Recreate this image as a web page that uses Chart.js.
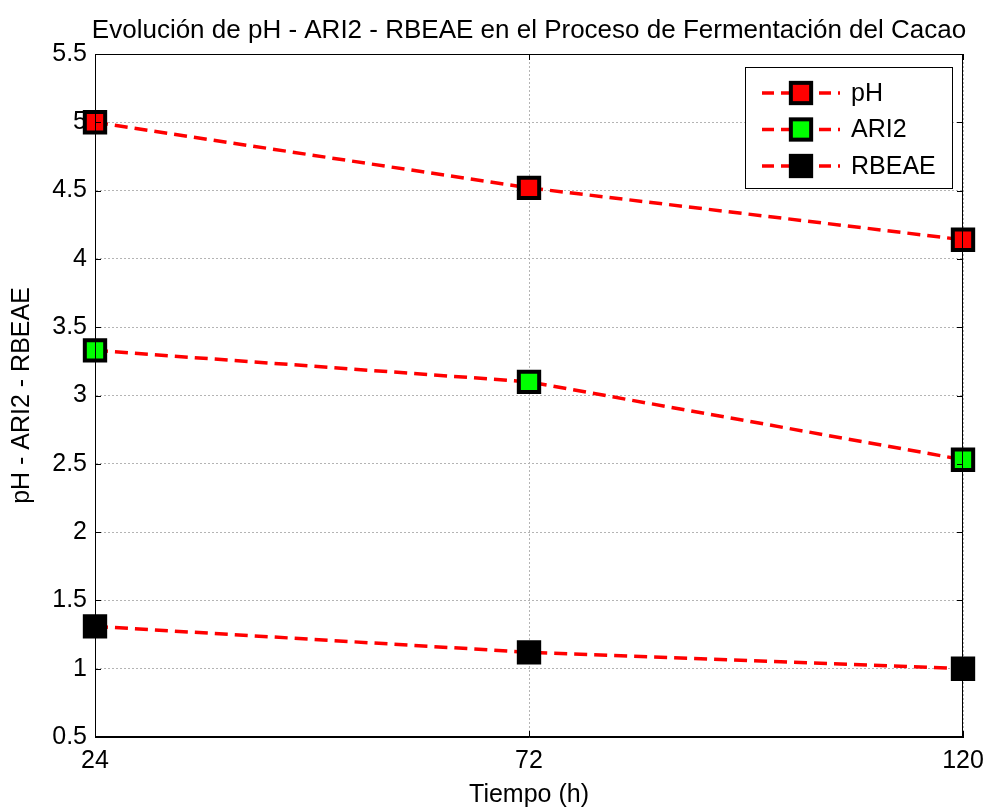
<!DOCTYPE html>
<html>
<head>
<meta charset="utf-8">
<script src="https://cdn.jsdelivr.net/npm/chart.js@4/dist/chart.umd.min.js"></script>
<style>
  html,body{margin:0;padding:0;background:#fff;}
  #wrap{width:989px;height:810px;}
</style>
</head>
<body>
<div id="wrap"><canvas id="myChart" width="989" height="810"></canvas></div>
<script>
// datos
var tiempo = [24, 72, 120];
var ph     = [5.0, 4.52, 4.14];
var ari2   = [3.33, 3.10, 2.53];
var rbeae  = [1.31, 1.12, 1.00];
var xTicks = [24, 72, 120];
var yTicks = [0.5, 1, 1.5, 2, 2.5, 3, 3.5, 4, 4.5, 5, 5.5];
var seriesNames = ['pH', 'ARI2', 'RBEAE'];
var markerColors = ['#ff0000', '#00ff00', '#000000'];
var titulo = 'Evolución de pH - ARI2 - RBEAE en el Proceso de Fermentación del Cacao';

var FONT = 'Liberation Sans, Arial, sans-serif';

function serie(i, vals){
  return {
    label: seriesNames[i],
    data: tiempo.map(function(t, k){ return {x: t, y: vals[k]}; }),
    borderColor: '#ff0000',
    borderWidth: 3.5,
    borderDash: [13, 7],
    pointStyle: 'rect',
    pointRadius: 14.4,
    pointHoverRadius: 14.4,
    pointBackgroundColor: markerColors[i],
    pointBorderColor: '#000',
    pointBorderWidth: 4,
    fill: false,
    tension: 0,
    clip: false
  };
}

// caja, marcas de ticks, titulo y leyenda estilo matlab
var matlabBox = {
  id: 'matlabBox',
  afterDatasetsDraw: function(chart){
    var ctx = chart.ctx, a = chart.chartArea;
    var xs = chart.scales.x, ys = chart.scales.y;
    ctx.save();
    ctx.strokeStyle = '#000';
    ctx.lineWidth = 1;
    ctx.strokeRect(a.left + 0.5, a.top + 0.5, a.right - a.left - 1, a.bottom - a.top - 1);
    ctx.beginPath();
    yTicks.forEach(function(v){
      var y = Math.round(ys.getPixelForValue(v)) + 0.5;
      ctx.moveTo(a.left, y); ctx.lineTo(a.left + 6, y);
      ctx.moveTo(a.right, y); ctx.lineTo(a.right - 6, y);
    });
    xTicks.forEach(function(v){
      var x = Math.round(xs.getPixelForValue(v)) + 0.5;
      ctx.moveTo(x, a.bottom); ctx.lineTo(x, a.bottom - 6);
      ctx.moveTo(x, a.top); ctx.lineTo(x, a.top + 6);
    });
    ctx.stroke();
    ctx.fillStyle = '#000';
    ctx.font = '26px ' + FONT;
    ctx.textAlign = 'center';
    ctx.textBaseline = 'middle';
    ctx.fillText(titulo, (a.left + a.right) / 2, 31);
    ctx.restore();
  },
  afterDraw: function(chart){
    var ctx = chart.ctx;
    var bx = 745, by = 67, bw = 207, bh = 121;
    ctx.save();
    ctx.fillStyle = '#fff';
    ctx.fillRect(bx, by, bw, bh);
    ctx.strokeStyle = '#000';
    ctx.lineWidth = 1;
    ctx.strokeRect(bx + 0.5, by + 0.5, bw, bh);
    chart.data.datasets.forEach(function(ds, i){
      var cy = 93 + i * 36.5;
      ctx.strokeStyle = ds.borderColor;
      ctx.lineWidth = ds.borderWidth;
      ctx.setLineDash([12, 7]);
      ctx.beginPath();
      ctx.moveTo(762, cy); ctx.lineTo(840, cy);
      ctx.stroke();
      ctx.setLineDash([]);
      var s = 20.3;
      ctx.fillStyle = ds.pointBackgroundColor;
      ctx.fillRect(801 - s/2, cy - s/2, s, s);
      ctx.lineWidth = 4;
      ctx.strokeStyle = '#000';
      ctx.strokeRect(801 - s/2, cy - s/2, s, s);
      ctx.fillStyle = '#000';
      ctx.font = '25px ' + FONT;
      ctx.textBaseline = 'middle';
      ctx.textAlign = 'left';
      ctx.fillText(ds.label, 851, cy + 1);
    });
    ctx.restore();
  }
};

var ctx = document.getElementById('myChart');
var myChart = new Chart(ctx, {
  type: 'line',
  data: {
    datasets: [serie(0, ph), serie(1, ari2), serie(2, rbeae)]
  },
  options: {
    responsive: false,
    animation: false,
    layout: {padding: {left: 0, right: 26, top: 54, bottom: 0}},
    plugins: {
      legend: {display: false},
      tooltip: {enabled: false},
      title: {display: false}
    },
    scales: {
      x: {
        type: 'linear',
        min: 24, max: 120,
        afterBuildTicks: function(s){ s.ticks = xTicks.map(function(v){ return {value: v}; }); },
        afterFit: function(s){ s.height = 73; s.paddingLeft = 0; s.paddingRight = 0; },
        ticks: {color: '#000', font: {family: FONT, size: 25}, padding: 9, maxRotation: 0},
        grid: {color: '#b4b4b4', lineWidth: 1, drawTicks: false},
        border: {display: true, color: '#000', dash: [2, 2]},
        title: {display: true, text: 'Tiempo (h)', color: '#000', font: {family: FONT, size: 25}, padding: {top: 0, bottom: 0}}
      },
      y: {
        min: 0.5, max: 5.5,
        afterBuildTicks: function(s){ s.ticks = yTicks.map(function(v){ return {value: v}; }); },
        afterFit: function(s){ s.width = 95; s.paddingTop = 0; s.paddingBottom = 0; },
        ticks: {color: '#000', font: {family: FONT, size: 25}, padding: 8,
          callback: function(v){ return String(v); }},
        grid: {color: '#b4b4b4', lineWidth: 1, drawTicks: false},
        border: {display: true, color: '#000', dash: [2, 2]},
        title: {display: true, text: 'pH - ARI2 - RBEAE', color: '#000', font: {family: FONT, size: 25}, padding: {top: 7, bottom: 0}}
      }
    }
  },
  plugins: [matlabBox]
});
</script>
</body>
</html>
